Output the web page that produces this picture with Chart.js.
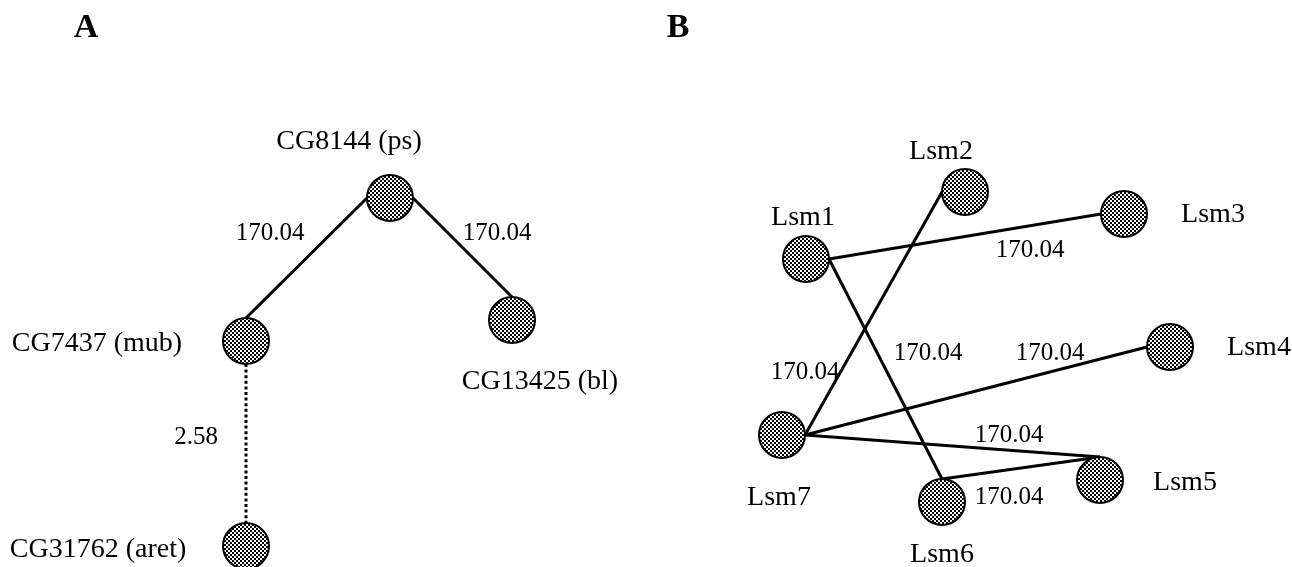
<!DOCTYPE html>
<html>
<head>
<meta charset="utf-8">
<script src="https://cdn.jsdelivr.net/npm/chart.js@4.4.1/dist/chart.umd.min.js"></script>
<style>
  html, body { margin: 0; padding: 0; background: #ffffff; }
  #wrap { width: 1292px; height: 567px; }
</style>
</head>
<body>
<div id="wrap"><canvas id="net" width="1292" height="567"></canvas></div>
<script>
// ---- Network data ----
const nodeNames = ['CG8144 (ps)', 'CG7437 (mub)', 'CG13425 (bl)', 'CG31762 (aret)',
                   'Lsm1', 'Lsm2', 'Lsm3', 'Lsm4', 'Lsm5', 'Lsm6', 'Lsm7'];
const nodeX = [390, 246, 512, 246, 806, 965, 1124, 1170, 1100, 942, 782];
const nodeY = [198, 341, 320, 546, 259, 192, 214, 347, 480, 502, 435];

const edgeFrom   = ['CG8144 (ps)', 'CG8144 (ps)', 'CG7437 (mub)', 'Lsm1', 'Lsm1', 'Lsm7', 'Lsm7', 'Lsm7', 'Lsm6'];
const edgeTo     = ['CG7437 (mub)', 'CG13425 (bl)', 'CG31762 (aret)', 'Lsm3', 'Lsm6', 'Lsm2', 'Lsm4', 'Lsm5', 'Lsm5'];
const edgeWeight = [170.04, 170.04, 2.58, 170.04, 170.04, 170.04, 170.04, 170.04, 170.04];

const panelLetters = ['A', 'B'];

// ---- Layout / styling ----
const NODE_R = 23;
const anchorDir = { left: [-1, 0], right: [1, 0], top: [0, -1], bottom: [0, 1], center: [0, 0] };
const edgeAnchors = [['left', 'top'], ['right', 'top'], ['bottom', 'top'], ['right', 'left'],
                     ['right', 'top'], ['right', 'left'], ['right', 'left'], ['right', 'top'], ['top', 'top']];
const edgeLabelPos = [[270, 233], [497, 233], [196, 437], [1030, 250], [928, 353],
                      [805, 372], [1050, 353], [1009, 435], [1009, 497]];
const nodeLabelPos = [[349, 142], [97, 344], [540, 382], [98, 550], [803, 218], [941, 152],
                      [1213, 215], [1259, 348], [1185, 483], [942, 555], [779, 498]];
const panelPos = [[86, 28], [678, 28]];

const SERIF = '"Liberation Serif", "Times New Roman", serif';

// Fine black/white checker used as the node fill
function checkerPattern() {
  const c = document.createElement('canvas');
  c.width = 4; c.height = 4;
  const g = c.getContext('2d');
  g.fillStyle = '#ffffff'; g.fillRect(0, 0, 4, 4);
  g.fillStyle = '#000000';
  g.fillRect(0, 0, 2, 2);
  g.fillRect(2, 2, 2, 2);
  return g.createPattern(c, 'repeat');
}

function anchorPoint(name, anchor) {
  const i = nodeNames.indexOf(name);
  const d = anchorDir[anchor];
  return { x: nodeX[i] + d[0] * NODE_R, y: nodeY[i] + d[1] * NODE_R };
}

const nodeDataset = {
  label: 'nodes',
  type: 'scatter',
  data: nodeNames.map((n, i) => ({ x: nodeX[i], y: nodeY[i] })),
  pointRadius: NODE_R,
  pointHoverRadius: NODE_R,
  pointBackgroundColor: checkerPattern(),
  pointBorderColor: '#000000',
  pointBorderWidth: 2,
  showLine: false,
  clip: false
};

const edgeDatasets = edgeFrom.map((from, k) => ({
  label: from + ' - ' + edgeTo[k],
  type: 'line',
  data: [anchorPoint(from, edgeAnchors[k][0]), anchorPoint(edgeTo[k], edgeAnchors[k][1])],
  borderColor: '#000000',
  borderWidth: 3,
  borderDash: edgeWeight[k] < 10 ? [3, 2.6] : [],
  borderCapStyle: 'butt',
  pointRadius: 0,
  fill: false,
  tension: 0,
  clip: false
}));

// Text: node names, edge weights and panel letters, placed through the scales
const textPlugin = {
  id: 'netText',
  afterDatasetsDraw(chart) {
    const { ctx, scales: { x, y } } = chart;
    ctx.save();
    ctx.fillStyle = '#000000';
    ctx.textAlign = 'center';
    ctx.textBaseline = 'middle';

    ctx.font = '28px ' + SERIF;
    nodeNames.forEach((n, i) => {
      ctx.fillText(n, x.getPixelForValue(nodeLabelPos[i][0]), y.getPixelForValue(nodeLabelPos[i][1]));
    });

    ctx.font = '25px ' + SERIF;
    edgeWeight.forEach((w, k) => {
      ctx.fillText(w.toFixed(2), x.getPixelForValue(edgeLabelPos[k][0]), y.getPixelForValue(edgeLabelPos[k][1]));
    });

    ctx.font = 'bold 34px ' + SERIF;
    panelLetters.forEach((p, i) => {
      ctx.fillText(p, x.getPixelForValue(panelPos[i][0]), y.getPixelForValue(panelPos[i][1]));
    });
    ctx.restore();
  }
};

new Chart(document.getElementById('net'), {
  type: 'scatter',
  data: { datasets: [nodeDataset, ...edgeDatasets] },
  options: {
    responsive: false,
    animation: false,
    events: [],
    layout: { padding: 0, autoPadding: false },
    plugins: { legend: { display: false }, tooltip: { enabled: false } },
    scales: {
      x: { type: 'linear', min: 0, max: 1292, display: false },
      y: { type: 'linear', min: 0, max: 567, reverse: true, display: false }
    }
  },
  plugins: [textPlugin]
});
</script>
</body>
</html>
